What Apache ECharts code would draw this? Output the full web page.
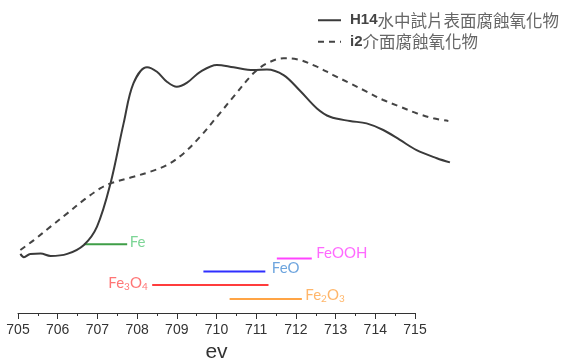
<!DOCTYPE html>
<html>
<head>
<meta charset="utf-8">
<script src="https://cdn.jsdelivr.net/npm/echarts@6/dist/echarts.min.js"></script>
<style>
  html, body { margin: 0; padding: 0; background: #fff; }
  #chart { width: 565px; height: 358px; }
</style>
</head>
<body>
<div id="chart"></div>
<script>
// Energy axis (eV); the spectra run a little past the last labelled tick
const energyMin = 705;
const energyMax = 715;
const spectrumMax = 716;

// H14 sample surface corrosion oxide spectrum: [energy eV, intensity]
const h14Name = 'H14水中試片表面腐蝕氧化物';
const h14Energy = [705.06, 705.15, 705.31, 705.57, 705.82, 706.24, 706.66, 706.99, 707.33, 707.66,
  707.91, 708.25, 708.50, 708.75, 709.00, 709.26, 709.59, 710.01, 710.43, 710.93,
  711.27, 711.69, 712.11, 712.53, 712.86, 713.36, 713.78, 714.20, 714.62, 715.04,
  715.55, 715.88];
const h14Intensity = [19.7, 18.6, 19.7, 19.8, 19.0, 19.7, 22.7, 28.8, 43.2, 63.2,
  76.6, 81.9, 80.4, 77.1, 75.4, 76.8, 80.4, 82.7, 81.9, 81.0,
  81.2, 79.3, 74.0, 68.2, 65.4, 64.0, 63.2, 61.0, 57.7, 54.3,
  51.6, 50.2];

// i2 interface corrosion oxide spectrum
const i2Name = 'i2介面腐蝕氧化物';
const i2Energy = [705.06, 705.40, 705.82, 706.24, 706.66, 707.08, 707.33, 707.91, 708.33, 708.75,
  709.17, 709.59, 710.01, 710.43, 710.93, 711.27, 711.69, 712.02, 712.53, 712.94,
  713.36, 713.78, 714.20, 714.62, 715.04, 715.46, 715.84];
const i2Intensity = [21.0, 24.3, 28.8, 33.2, 37.7, 41.6, 43.2, 45.4, 47.1, 49.3,
  53.2, 58.8, 65.4, 72.1, 79.9, 83.2, 84.9, 84.6, 82.1, 79.3,
  76.6, 73.8, 71.0, 68.8, 66.6, 64.9, 64.0];

// Reference energy ranges of iron species
const refNames = ['Fe', 'FeOOH', 'FeO', 'Fe3O4', 'Fe2O3'];
const refStart = [706.66, 711.52, 709.67, 708.38, 710.33];
const refEnd   = [707.75, 712.40, 711.23, 711.31, 712.15];
const refLevel = [22.9, 18.2, 13.8, 9.3, 4.7];

// Styling for the reference ranges
const refLineColor  = ['#3f9e47', '#ff44ff', '#2f2fff', '#ff3c3c', '#ffa445'];
const refLabelColor = ['#5ccb7c', '#ff44ff', '#4a8fd6', '#ff5252', '#ffa445'];
const refLabelText = [
  '{m|Fe}',
  '{m|FeOOH}',
  '{m|FeO}',
  '{m|Fe}{s|3}{m|O}{s|4}',
  '{m|Fe}{s|2}{m|O}{s|3}'
];
const refLabelSide = ['right', 'right', 'right', 'left', 'right'];
const refLabelGap  = [2, 4, 6, 4, 3];
const refLabelLift = [-2, -5, -3, -2, -4];

function pairs(xs, ys) {
  return xs.map((x, i) => [x, ys[i]]);
}

const labelFont = 'Lato, "Open Sans", sans-serif';
const sansFont = '"Liberation Sans", Arial, sans-serif';

// Plot geometry: 705 eV at x=18, 715 eV at x=415
const plotLeft = 18;
const plotRight = 415;
const pxPerEv = (plotRight - plotLeft) / (energyMax - energyMin);
const spectrumRightPx = plotLeft + pxPerEv * (spectrumMax - energyMin);

// one horizontal bar per species
const refLineSeries = refNames.map((name, i) => ({
  name: name,
  type: 'line',
  xAxisIndex: 1,
  yAxisIndex: 1,
  data: [[refStart[i], refLevel[i]], [refEnd[i], refLevel[i]]],
  symbol: 'none',
  silent: true,
  lineStyle: { color: refLineColor[i], width: 2 },
  z: 3
}));

// species names, anchored at the labelled end of each bar
const refLabelSeries = refNames.map((name, i) => {
  const left = refLabelSide[i] === 'left';
  return {
    name: name + '-label',
    type: 'scatter',
    xAxisIndex: 1,
    yAxisIndex: 1,
    silent: true,
    symbol: 'circle',
    symbolSize: 1,
    itemStyle: { color: 'rgba(0,0,0,0)' },
    data: [[left ? refStart[i] : refEnd[i], refLevel[i]]],
    label: {
      show: true,
      position: left ? 'left' : 'right',
      distance: refLabelGap[i],
      offset: [0, refLabelLift[i]],
      formatter: refLabelText[i],
      rich: {
        m: { color: refLabelColor[i], fontSize: 15, fontFamily: labelFont },
        s: { color: refLabelColor[i], fontSize: 10, fontFamily: labelFont, padding: [8, 0, 0, 0] }
      }
    },
    z: 5
  };
});

const chart = echarts.init(document.getElementById('chart'), null, { renderer: 'canvas' });

chart.setOption({
  animation: false,
  backgroundColor: '#ffffff',
  grid: [
    // spectra
    { left: plotLeft, width: spectrumRightPx - plotLeft, top: 13, bottom: 45, outerBoundsMode: 'none', containLabel: false },
    // labelled energy axis and reference ranges
    { left: plotLeft, width: plotRight - plotLeft, top: 13, bottom: 45, outerBoundsMode: 'none', containLabel: false }
  ],
  legend: {
    data: [h14Name, i2Name],
    orient: 'vertical',
    left: 317,
    top: 12,
    padding: 0,
    itemWidth: 23,
    itemHeight: 14,
    itemGap: 5,
    itemStyle: { opacity: 0 },
    formatter: function (name) {
      if (name === h14Name) return '{b|H14}{c|水中試片表面腐蝕氧化物}';
      return '{b|i2}{c|介面腐蝕氧化物}';
    },
    textStyle: {
      padding: [0, 0, 0, 4],
      rich: {
        b: { fontSize: 15, fontWeight: 'bold', color: '#444', fontFamily: sansFont },
        c: { fontSize: 16.5, color: '#666', fontFamily: '"Noto Sans CJK TC", sans-serif' }
      }
    }
  },
  xAxis: [
    {
      type: 'value',
      gridIndex: 0,
      min: energyMin,
      max: spectrumMax,
      show: false
    },
    {
      type: 'value',
      gridIndex: 1,
      min: energyMin,
      max: energyMax,
      interval: 1,
      name: 'ev',
      nameLocation: 'middle',
      nameGap: 27,
      nameTextStyle: { fontSize: 21, color: '#333', fontFamily: sansFont },
      axisLine: { lineStyle: { color: '#333', width: 1 } },
      axisTick: { length: 6, lineStyle: { color: '#333', width: 1 } },
      minorTick: { show: true, splitNumber: 2, length: 3, lineStyle: { color: '#333', width: 1 } },
      splitLine: { show: false },
      minorSplitLine: { show: false },
      axisLabel: { fontSize: 14, color: '#333', margin: 10, fontFamily: sansFont }
    }
  ],
  yAxis: [
    { type: 'value', gridIndex: 0, min: 0, max: 100, show: false },
    { type: 'value', gridIndex: 1, min: 0, max: 100, show: false }
  ],
  series: [
    {
      name: h14Name,
      type: 'line',
      xAxisIndex: 0,
      yAxisIndex: 0,
      data: pairs(h14Energy, h14Intensity),
      smooth: 0.35,
      symbol: 'none',
      color: '#3a3a3a',
      lineStyle: { color: '#3a3a3a', width: 2 },
      z: 4
    },
    {
      name: i2Name,
      type: 'line',
      xAxisIndex: 0,
      yAxisIndex: 0,
      data: pairs(i2Energy, i2Intensity),
      smooth: 0.35,
      symbol: 'none',
      color: '#444',
      lineStyle: { color: '#444', width: 2, type: [6, 5] },
      z: 4
    }
  ].concat(refLineSeries, refLabelSeries)
});
</script>
</body>
</html>
